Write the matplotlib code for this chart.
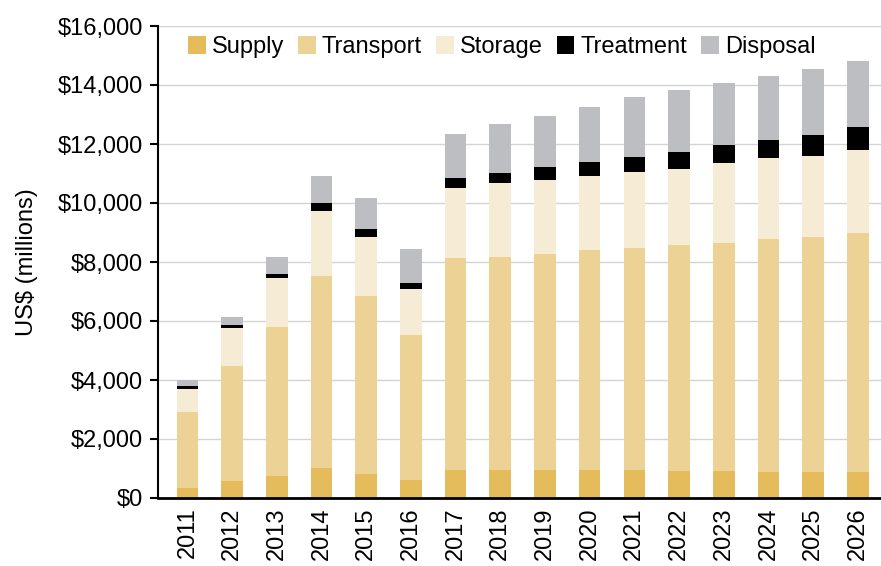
import matplotlib
matplotlib.use("Agg")
import matplotlib.pyplot as plt
import numpy as np
from matplotlib.ticker import FuncFormatter

plt.rcParams["font.family"] = ["Liberation Sans", "DejaVu Sans"]

years = [str(y) for y in range(2011, 2027)]
# values in US$ millions
supply = [340, 590, 730, 1010, 810, 610, 950, 960, 960, 960, 950, 900, 900, 890, 890, 890]
transport = [2570, 3900, 5050, 6520, 6040, 4900, 7180, 7220, 7310, 7450, 7540, 7680, 7760, 7880, 7970, 8090]
storage = [780, 1270, 1690, 2210, 2010, 1590, 2370, 2510, 2510, 2510, 2570, 2560, 2690, 2740, 2740, 2820]
treatment = [110, 110, 120, 250, 250, 180, 340, 320, 450, 460, 510, 580, 600, 640, 700, 770]
disposal = [200, 280, 570, 940, 1070, 1150, 1500, 1670, 1730, 1860, 2010, 2110, 2110, 2150, 2240, 2260]

series = [
    ("Supply", supply, "#E4BC5C"),
    ("Transport", transport, "#ECD295"),
    ("Storage", storage, "#F6EBD4"),
    ("Treatment", treatment, "#000000"),
    ("Disposal", disposal, "#BDBEC1"),
]

fig = plt.figure(figsize=(8.81, 5.66), dpi=100)
ax = fig.add_axes([158 / 881, 68 / 566, 723 / 881, 472 / 566])

x = np.arange(len(years))
bottom = np.zeros(len(years))
for name, vals, color in series:
    ax.bar(x, vals, width=0.485, bottom=bottom, color=color, label=name, zorder=2)
    bottom += np.array(vals)

ax.set_xlim(-0.66, len(years) - 0.48)
ax.set_ylim(0, 16000)
ax.set_yticks(np.arange(0, 16001, 2000))
ax.yaxis.set_major_formatter(FuncFormatter(lambda v, _: f"${v:,.0f}"))
ax.set_xticks(x)
ax.set_xticklabels(years, rotation=90)
ax.tick_params(axis="y", labelsize=17, length=6, width=1.5, pad=5)
ax.tick_params(axis="x", labelsize=17, length=0, pad=7)
ax.grid(axis="y", color="#D3D3D3", linewidth=1, zorder=0)
ax.set_axisbelow(True)
for side in ("top", "right"):
    ax.spines[side].set_visible(False)
ax.spines["left"].set_linewidth(1.5)
ax.spines["bottom"].set_linewidth(2)
ax.set_ylabel("US$ (millions)", fontsize=17, labelpad=14)

ax.legend(loc="center left", bbox_to_anchor=(0.025, 0.955), ncol=5, frameon=False,
          fontsize=17, borderpad=0, handlelength=0.75, handleheight=0.75,
          handletextpad=0.25, columnspacing=0.6)

fig.savefig("out.png", dpi=100)
